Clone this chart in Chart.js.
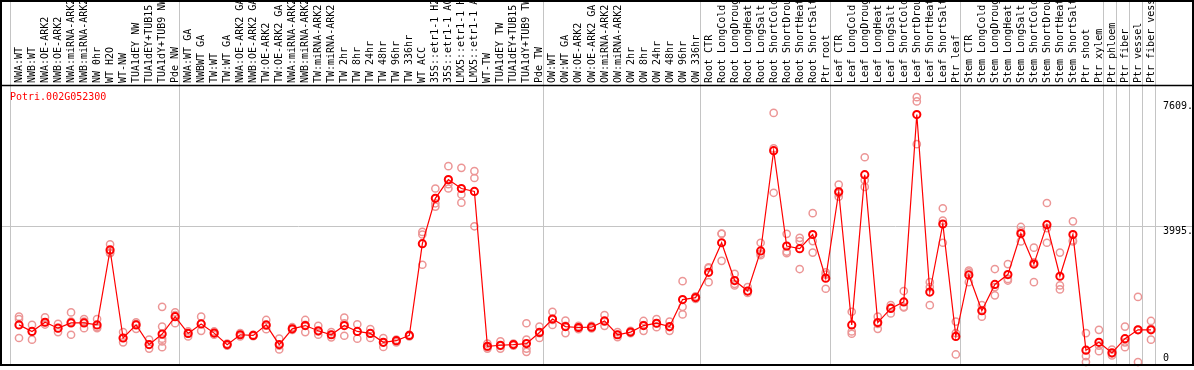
<!DOCTYPE html>
<html>
<head>
<meta charset="utf-8">
<script src="https://cdn.jsdelivr.net/npm/chart.js@4"></script>
<style>
  html, body { margin: 0; padding: 0; background: #fff; }
  canvas { display: block; }
</style>
</head>
<body>
<canvas id="chart" width="1194" height="370"></canvas>
<script>
const geneName = 'Potri.002G052300';

const categories = [
  'NWA:WT', 'NWB:WT', 'NWA:OE-ARK2', 'NWB:OE-ARK2', 'NWA:miRNA-ARK2', 'NWB:miRNA-ARK2',
  'NW 0hr', 'WT H2O', 'WT-NW', 'TUA1dEY NW', 'TUA1dEY+TUB15 NW', 'TUA1dY+TUB9 NW', 'Pde NW',
  'NWA:WT GA', 'NWBWT GA', 'TW:WT', 'TW:WT GA', 'NWA:OE-ARK2 GA', 'NWB:OE-ARK2 GA',
  'TW:OE-ARK2', 'TW:OE-ARK2 GA', 'NWA:miRNA-ARK2', 'NWB:miRNA-ARK2', 'TW:miRNA-ARK2',
  'TW:miRNA-ARK2', 'TW 2hr', 'TW 8hr', 'TW 24hr', 'TW 48hr', 'TW 96hr', 'TW 336hr', 'WT ACC',
  '35S::etr1-1 H2O', '35S::etr1-1 ACC', 'LMX5::etr1-1 H2O', 'LMX5::etr1-1 ACC', 'WT-TW',
  'TUA1dEY TW', 'TUA1dEY+TUB15 TW', 'TUA1dY+TUB9 TW', 'Pde TW',
  'OW:WT', 'OW:WT GA', 'OW:OE-ARK2', 'OW:OE-ARK2 GA', 'OW:miRNA-ARK2', 'OW:miRNA-ARK2',
  'OW 2hr', 'OW 8hr', 'OW 24hr', 'OW 48hr', 'OW 96hr', 'OW 336hr',
  'Root CTR', 'Root LongCold', 'Root LongDrought', 'Root LongHeat', 'Root LongSalt',
  'Root ShortCold', 'Root ShortDrought', 'Root ShortHeat', 'Root ShortSalt', 'Ptr root',
  'Leaf CTR', 'Leaf LongCold', 'Leaf LongDrought', 'Leaf LongHeat', 'Leaf LongSalt',
  'Leaf ShortCold', 'Leaf ShortDrought', 'Leaf ShortHeat', 'Leaf ShortSalt', 'Ptr leaf',
  'Stem CTR', 'Stem LongCold', 'Stem LongDrought', 'Stem LongHeat', 'Stem LongSalt',
  'Stem ShortCold', 'Stem ShortDrought', 'Stem ShortHeat', 'Stem ShortSalt', 'Ptr shoot',
  'Ptr xylem', 'Ptr phloem', 'Ptr fiber', 'Ptr vessel', 'Ptr fiber vessel'
];

// mean expression per sample
const meanValues = [
  1132, 942, 1208, 1037, 1189, 1189, 1132, 3301, 752, 1132, 561, 866, 1370,
  885, 1161, 894, 561, 847, 828, 1132, 561, 1018, 1113, 961, 847, 1113, 942, 885,
  628, 675, 828, 3482, 4795, 5337, 5080, 4994, 514, 542, 561, 590, 913,
  1303, 1084, 1056, 1065, 1246, 847, 923, 1113, 1180, 1084, 1865, 1922,
  2654, 3510, 2416, 2112, 3272, 6174, 3415, 3339, 3748, 2483,
  4985, 1132, 5479, 1199, 1608, 1798, 7220, 2083, 4053, 799,
  2578, 1541, 2302, 2588, 3777, 2892, 4034, 2540, 3748, 400,
  628, 323, 733, 989, 989
];

// individual replicates
const rep1 = [
  1370, 1132, 1351, 1161, 1494, 1303, 1303, 3463, 923, 1208, 704, 1655, 1494,
  942, 1370, 942, 590, 894, 847, 1275, 733, 1065, 1275, 1104, 923, 1341, 1151, 885,
  752, 704, 847, 3824, 5080, 5727, 5679, 5584, 485, 656, 590, 1180, 1084,
  1513, 1256, 1056, 1104, 1417, 923, 961, 1246, 1303, 1227, 2397, 1960,
  2797, 3767, 2607, 2226, 3510, 7268, 3767, 3653, 4366, 2654,
  5194, 1513, 5984, 1370, 1703, 2112, 7725, 2369, 4509, 1227,
  2702, 1703, 2749, 2892, 3967, 3368, 4661, 3225, 4129, 894,
  989, 419, 1084, 1941, 1246
];
const rep2 = [
  1303, 942, 1142, 923, 1227, 1037, 1037, 3206, 752, 1018, 561, 1084, 1180,
  799, 961, 847, 533, 799, 809, 1008, 419, 989, 923, 847, 771, 818, 733, 752,
  495, 628, 799, 3748, 4652, 5080, 4909, 5384, 447, 447, 533, 704, 752,
  1132, 894, 1008, 1027, 1104, 780, 894, 961, 1065, 961, 1655, 1884,
  2369, 2987, 2274, 2055, 3149, 6241, 3206, 3558, 3558, 2178,
  4842, 942, 5127, 1018, 1465, 1655, 7601, 1703, 4148, 894,
  2369, 1370, 1988, 2416, 3548, 2369, 3929, 2274, 3548, 228,
  371, 247, 485, 57, 704
];
const rep3 = [
  752, 704, 1208, 1037, 847, 1227, 1065, 3225, 628, 1161, 447, 733, 1417,
  885, 1161, 894, 561, 847, 828, 1113, 533, 1018, 1132, 942, 847, 1180, 942, 1008,
  628, 685, 828, 2873, 4557, 5203, 4671, 3986, 590, 523, 561, 447, 894,
  1275, 1104, 1104, 1065, 1227, 847, 913, 1123, 1180, 1065, 1436, 1922,
  2778, 3777, 2321, 2112, 3196, 4956, 3253, 2749, 3225, 2588,
  4937, 875, 5318, 1161, 1636, 1636, 6364, 2226, 3510, 276,
  2654, 1560, 2226, 2464, 3843, 2940, 3510, 2159, 3577, 57,
  533, 304, 628, 989, 1018
];
// extra replicates (only a couple of samples have them)
const rep4 = categories.map((c, i) => i === 11 ? 656 : (i === 39 ? 352 : null));
const rep5 = categories.map((c, i) => i === 11 ? 485 : null);

const yTickValues = [0, 3995, 7609];
const yTickLabels = ['0', '3995.', '7609.'];
const yGridValues = [3995];
// sample index after which a separator line is drawn
const groupEnds = [-1, 12, 40, 52, 62, 72, 83, 84, 85, 86, 87];

const MONO = '10px "DejaVu Sans Mono", "Liberation Mono", monospace';

const decor = {
  id: 'decor',
  beforeDatasetsDraw(chart) {
    const {ctx, scales: {x, y}, width} = chart;
    ctx.save();
    ctx.strokeStyle = '#c4c4c4';
    ctx.lineWidth = 1;
    yGridValues.forEach(v => {
      const py = Math.round(y.getPixelForValue(v)) + 0.5;
      ctx.beginPath();
      ctx.moveTo(0, py);
      ctx.lineTo(width, py);
      ctx.stroke();
    });
    groupEnds.forEach(g => {
      const px = Math.round(x.getPixelForValue(g + 0.3)) + 0.5;
      ctx.beginPath();
      ctx.moveTo(px, 0);
      ctx.lineTo(px, y.bottom);
      ctx.stroke();
    });
    ctx.restore();
  },
  afterDraw(chart) {
    const {ctx, scales: {x, y}, width, height} = chart;
    ctx.save();
    // sample names, rotated, reading upwards
    ctx.font = MONO;
    ctx.fillStyle = '#000';
    ctx.textAlign = 'left';
    ctx.textBaseline = 'middle';
    categories.forEach((c, i) => {
      ctx.save();
      ctx.translate(Math.round(x.getPixelForValue(i)), 83);
      ctx.rotate(-Math.PI / 2);
      ctx.fillText(c, 0, 0);
      ctx.restore();
    });
    // frame and header separator
    ctx.strokeStyle = '#000';
    ctx.lineWidth = 2;
    ctx.strokeRect(1, 1, width - 2, y.bottom);
    ctx.beginPath();
    ctx.moveTo(0, 85.5);
    ctx.lineTo(width, 85.5);
    ctx.lineWidth = 1.5;
    ctx.stroke();
    // value labels on the right
    ctx.textBaseline = 'top';
    yTickValues.forEach((v, i) => {
      const py = Math.min(y.getPixelForValue(v), y.bottom - 11);
      ctx.fillText(yTickLabels[i], 1163, py);
    });
    // gene name
    ctx.fillStyle = '#ff0000';
    ctx.fillText(geneName, 10, 92);
    ctx.restore();
  }
};

const repStyle = {
  type: 'line',
  showLine: false,
  pointStyle: 'circle',
  pointRadius: 3.6,
  pointBorderWidth: 1.5,
  pointBorderColor: 'rgb(236,150,150)',
  pointBackgroundColor: 'rgba(0,0,0,0)',
  clip: false
};

new Chart(document.getElementById('chart').getContext('2d'), {
  type: 'line',
  data: {
    labels: categories,
    datasets: [
      {
        label: 'mean',
        data: meanValues,
        borderColor: '#ff0000',
        borderWidth: 1.2,
        pointStyle: 'circle',
        pointRadius: 3.6,
        pointBorderWidth: 2,
        pointBorderColor: '#ff0000',
        pointBackgroundColor: 'rgba(0,0,0,0)',
        tension: 0,
        clip: false
      },
      Object.assign({label: 'rep1', data: rep1}, repStyle),
      Object.assign({label: 'rep2', data: rep2}, repStyle),
      Object.assign({label: 'rep3', data: rep3}, repStyle),
      Object.assign({label: 'rep4', data: rep4}, repStyle),
      Object.assign({label: 'rep5', data: rep5}, repStyle)
    ]
  },
  options: {
    responsive: false,
    animation: false,
    devicePixelRatio: 1,
    layout: { padding: { left: 19, right: 43, top: 85, bottom: 2 } },
    scales: {
      x: { type: 'category', display: false, offset: false },
      y: { min: 0, max: 8076, display: false }
    },
    plugins: {
      legend: { display: false },
      tooltip: { enabled: false }
    }
  },
  plugins: [decor]
});
</script>
</body>
</html>
